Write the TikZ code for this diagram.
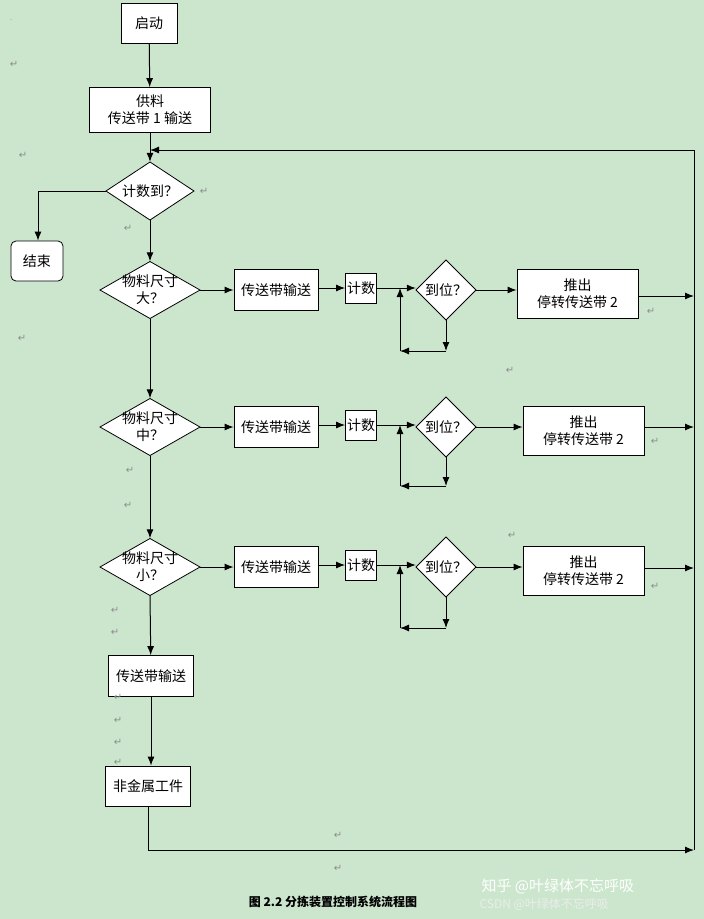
\documentclass[tikz,border=0pt]{standalone}
\usepackage{fontspec}
\setmainfont{Liberation Serif}
\newfontfamily\cjk{Noto Sans CJK SC}
\newfontfamily\sym{DejaVu Sans}
\usetikzlibrary{shapes.geometric,arrows.meta}
\newcommand\mydia[6]{%
  \draw[fill=white,line width=0.8pt] (#2,#3-#5/2) -- (#2+#4/2,#3) -- (#2,#3+#5/2) -- (#2-#4/2,#3) -- cycle;
  \node[minimum width=#4pt,minimum height=#5pt,inner sep=0pt,align=center] (#1) at (#2,#3) {#6};}
\begin{document}
\begin{tikzpicture}[x=1pt,y=-1pt,
  every node/.style={font=\cjk\fontsize{14}{17}\selectfont},
  box/.style={draw,fill=white,line width=0.8pt,inner sep=0pt,align=center},
  ar/.style={line width=1pt,-{Latex[length=9pt,width=7pt]}},
  ln/.style={line width=1pt},
  pm/.style={font=\sym\fontsize{10}{10}\selectfont,text=black!45}]
\fill[fill={rgb,255:red,203;green,230;blue,205}] (0,0) rectangle (704,919);
\node[box,minimum width=56pt,minimum height=40pt] (start) at (149,23) {启动};
\node[box,minimum width=121pt,minimum height=45pt] (feed) at (150,110) {供料\\传送带 1 输送};
\mydia{cnt}{150}{191}{88}{58}{计数到？}
\node[box,rounded corners=5pt,minimum width=52pt,minimum height=40pt] (end) at (37,261) {结束};
\coordinate (fb) at (150,150);
\coordinate (fbR) at (694,150);
\coordinate (endT) at (38,191);
\draw[ar] (start) -- (feed);
\draw[ar] (feed) -- (cnt.north);
\draw[ar] (fbR) -- (fb);
\draw[ln] (cnt.west) -- (endT);
\draw[ar] (endT) -- (end.north -| endT);
\foreach \i/\y/\lab/\py/\bx/\bot in {a/290/大/296/517/351, b/427/中/427/523/486, c/567/小/568/523/628}{
  \mydia{d\i}{150}{\y}{100}{57}{物料尺寸\\\lab？}
  \mydia{w\i}{446}{\y}{60}{60}{到位？}
  \node[box,minimum width=84pt,minimum height=41pt] (t\i) at (276,\y) {传送带输送};
  \node[box,minimum width=31pt,minimum height=30pt] (k\i) at (361,\y-2) {计数};
  \node[box,minimum width=121pt,minimum height=49pt] (p\i) at (\bx+60.5,\y+4) {推出\\停转传送带 2};
  \coordinate (r\i) at (694,\py);
  \coordinate (j\i) at (400,\y);
  \coordinate (b\i) at (446,\bot);
  \coordinate (c\i) at (400,\bot);
  \draw[ar] (d\i.east) -- (t\i);
  \draw[ar] (t\i.east |- k\i) -- (k\i);
  \draw[ar] (k\i.east) -- (k\i.east -| w\i.west);
  \draw[ar] (w\i.east) -- (w\i -| p\i.west);
  \draw[ar] (p\i.east |- r\i) -- (r\i);
  \draw[ar] (w\i.south) -- (b\i);
  \draw[ar] (b\i) -- (c\i);
  \draw[ar] (c\i) -- (j\i |- k\i.east);
}
\draw[ar] (cnt.south) -- (da.north);
\draw[ar] (da.south) -- (db.north);
\draw[ar] (db.south) -- (dc.north);
\node[box,minimum width=85pt,minimum height=41pt] (conv) at (151,676) {传送带输送};
\node[box,minimum width=85pt,minimum height=40pt] (nm) at (148,786) {非金属工件};
\draw[ar] (dc.south) -- (conv);
\draw[ar] (conv) -- (conv |- nm.north);
\coordinate (bl) at (148,850);
\coordinate (br) at (694,850);
\draw[ln] (nm.south) -- (bl);
\draw[ar] (bl) -- (br);
\draw[ln] (br) -- (fbR);
\node[font=\cjk\bfseries\fontsize{12}{14}\selectfont] (cap) at (333,902) {图 2.2 分拣装置控制系统流程图};
\node[font=\cjk\fontsize{15}{16}\selectfont,text=white,anchor=west] (wm1) at (478,886) {知乎 @叶绿体不忘呼吸};
\node[font=\cjk\fontsize{12}{14}\selectfont,text=white!85!gray,anchor=west] (wm2) at (476,904) {CSDN @叶绿体不忘呼吸};
\foreach \x/\y [count=\n] in {14/64,23/155,128/228,22/338,510/370,130/470,128/505,512/535,115/610,115/632,118/697,118/720,118/742,118/762,338/835,338/868,204/191,651/311,655/441,655/586}{
  \node[pm] (pm\n) at (\x,\y) {↵};}
\node (dot) at (11,20) {\tiny.};
\end{tikzpicture}
\end{document}
